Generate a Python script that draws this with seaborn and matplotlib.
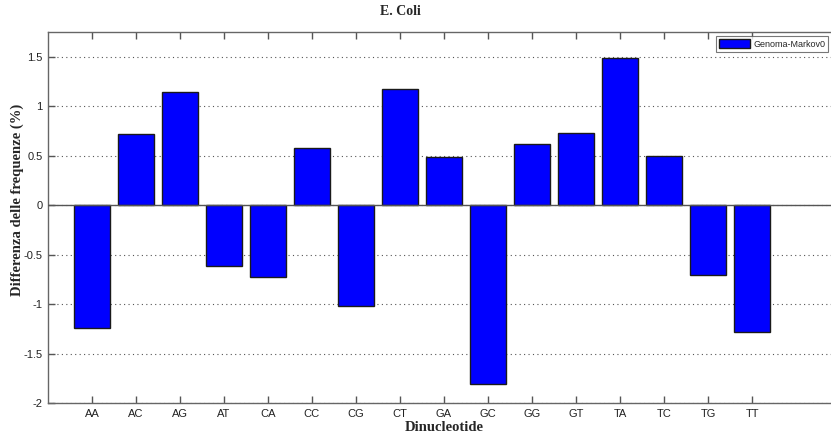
import matplotlib
matplotlib.use("Agg")
import matplotlib.pyplot as plt
import seaborn as sns
import pandas as pd

categories = ["AA", "AC", "AG", "AT", "CA", "CC", "CG", "CT",
              "GA", "GC", "GG", "GT", "TA", "TC", "TG", "TT"]
values = [-1.24, 0.72, 1.14, -0.62, -0.73, 0.58, -1.02, 1.17,
          0.49, -1.81, 0.62, 0.73, 1.49, 0.50, -0.71, -1.28]
series_name = "Genoma-Markov0"
title = "E. Coli"
xlabel = "Dinucleotide"
ylabel = "Differenza delle frequenze (%)"
yticks = [-2, -1.5, -1, -0.5, 0, 0.5, 1, 1.5]
ytick_labels = ["-2", "-1.5", "-1", "-0.5", "0", "0.5", "1", "1.5"]

df = pd.DataFrame({"cat": categories, "val": values, "serie": series_name})

sns.set_theme(style="white")
plt.rcParams["font.family"] = ["Liberation Sans", "DejaVu Sans"]

W, H = 831, 436
fig = plt.figure(figsize=(W / 100, H / 100), dpi=100)
ax = fig.add_axes([48 / W, 1 - 403 / H, (840 - 48) / W, (403 - 32) / H])

sns.barplot(data=df, x="cat", y="val", hue="serie", order=categories,
            palette=["#0000ff"], width=0.8, edgecolor="#1a1a1a", linewidth=1.0,
            saturation=1, ax=ax, legend=True)

ax.set_xlim(-1, 17)
ax.set_ylim(-2, 1.75)
ax.set_yticks(yticks)
ax.set_yticklabels(ytick_labels)
ax.axhline(0, color="#555555", lw=1.0, zorder=3)

ax.yaxis.grid(True, linestyle=(0, (1, 3)), color="#555555", lw=0.8)
ax.xaxis.grid(False)
ax.set_axisbelow(True)

for s in ax.spines.values():
    s.set_color("#666666")
    s.set_linewidth(1.0)

ax.tick_params(axis="both", direction="in", length=5, width=1, color="#555555",
               labelsize=8, labelcolor="#222222", top=True, right=False,
               left=True, bottom=True, pad=4)

ax.set_title(title, fontsize=10, fontweight="bold", family=["Liberation Serif"],
             pad=12, x=(400 - 48) / 792)
ax.set_xlabel(xlabel, fontsize=10.5, fontweight="bold", family=["Liberation Serif"], labelpad=2)
ax.set_ylabel(ylabel, fontsize=10.5, fontweight="bold", family=["Liberation Serif"])
ax.yaxis.set_label_coords(-24 / 792, (403 - 200) / 371)

leg = ax.legend(loc="upper left", bbox_to_anchor=(716 / W, 1 - 36 / H),
                bbox_transform=fig.transFigure, fontsize=6.5, frameon=True,
                fancybox=False, edgecolor="#555555", borderpad=0.35,
                handlelength=3.4, handleheight=1.2, handletextpad=0.35,
                borderaxespad=0)
leg.get_frame().set_linewidth(0.8)

fig.savefig("out.png", dpi=100)
